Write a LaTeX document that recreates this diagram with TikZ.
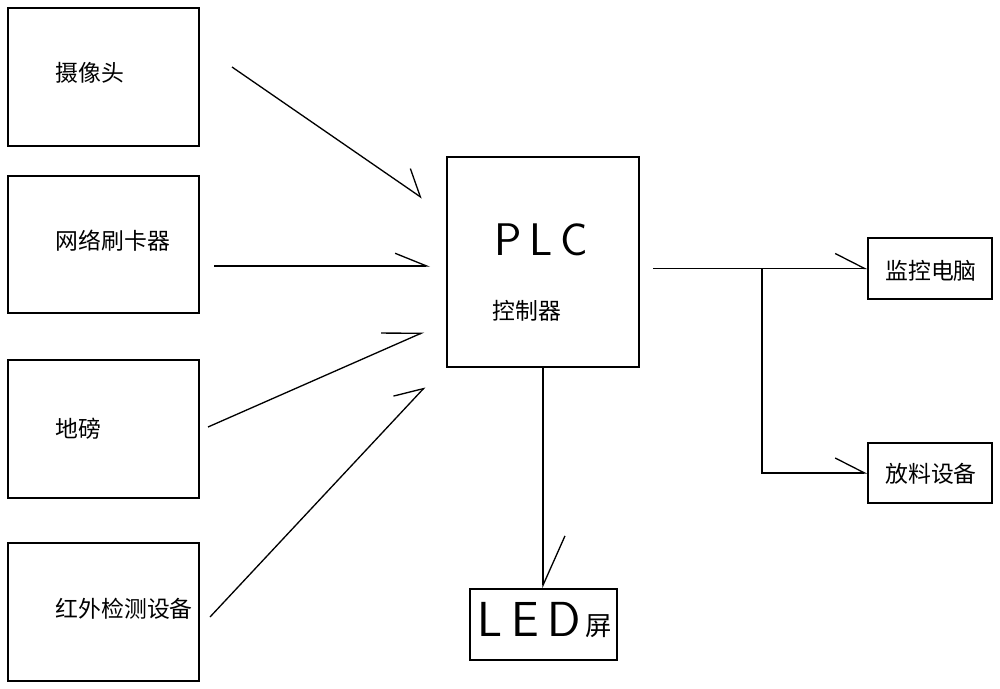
\documentclass[tikz,border=0pt]{standalone}
\usepackage{fontspec}
\setmainfont{Noto Sans CJK SC}
\usetikzlibrary{arrows.meta,positioning}

\begin{document}
\begin{tikzpicture}[x=0.02cm, y=-0.02cm, line width=0.75pt,
    box/.style={draw, inner sep=0pt},
    txt/.style={inner sep=0pt, font=\fontsize{13}{15}\selectfont},
    big/.style={inner sep=0pt, font=\fontsize{26}{28}\sffamily},
    halfarrow/.style={-{Straight Barb[harpoon, angle=#1]}}]
  \useasboundingbox (0,0) rectangle (1000,689);

  % input devices
  \node[box, minimum width=3.82cm, minimum height=2.76cm] (cam) at (103.5,77) {};
  \node[box, minimum width=3.82cm, minimum height=2.74cm] (card) at (103.5,244.5) {};
  \node[box, minimum width=3.82cm, minimum height=2.76cm] (scale) at (103.5,429) {};
  \node[box, minimum width=3.82cm, minimum height=2.76cm] (ir) at (103.5,612) {};
  \node[txt, anchor=west] (camtxt) at (55,73) {摄像头};
  \node[txt, anchor=west] (cardtxt) at (55,241) {网络刷卡器};
  \node[txt, anchor=west] (scaletxt) at (55,429) {地磅};
  \node[txt, anchor=west] (irtxt) at (55,609) {红外检测设备};

  % controller
  \node[box, minimum width=3.84cm, minimum height=4.2cm] (plc) at (543,262) {};
  \node[big] (plctxt) at (541,240) {P\,L\,C};
  \node[txt] (plcsub) at (527,311) {控制器};

  % outputs
  \node[box, minimum width=2.94cm, minimum height=1.42cm] (led) at (543.5,624.5) {};
  \node[inner sep=0pt] (ledtxt) at (545,620) {{\fontsize{28}{30}\sffamily L\,E\,D}\hspace{3pt}\fontsize{15}{17}\selectfont\raisebox{1pt}{屏}};
  \node[box, minimum width=2.48cm, minimum height=1.22cm] (mon) at (930,268.5) {};
  \node[box, minimum width=2.48cm, minimum height=1.2cm] (feed) at (930,473) {};
  \node[txt] (montxt) at (931,271) {监控电脑};
  \node[txt] (feedtxt) at (931,474) {放料设备};

  \coordinate (a1) at (232,67);  \coordinate (b1) at (422,198);
  \coordinate (a2) at (214,266); \coordinate (b2) at (430,266);
  \coordinate (a3) at (208,427); \coordinate (b3) at (424,332);
  \coordinate (a4) at (210,617); \coordinate (b4) at (425,387);
  \coordinate (o) at (653,268.5);
  \coordinate (j) at (762,268.5);

  \draw[halfarrow=72:0.6cm] (a1) -- (b1);
  \draw[halfarrow=44:0.68cm] (a2) -- (b2);
  \draw[halfarrow=48:0.8cm] (a3) -- (b3);
  \draw[halfarrow=66:0.62cm] (a4) -- (b4);

  \draw[halfarrow=54:0.66cm] (o) -- (mon.west);
  \draw[halfarrow=54:0.66cm] (j) |- (feed.west);
  \draw[halfarrow=48:1.08cm] (plc.south) -- (plc.south |- led.north);
\end{tikzpicture}
\end{document}
